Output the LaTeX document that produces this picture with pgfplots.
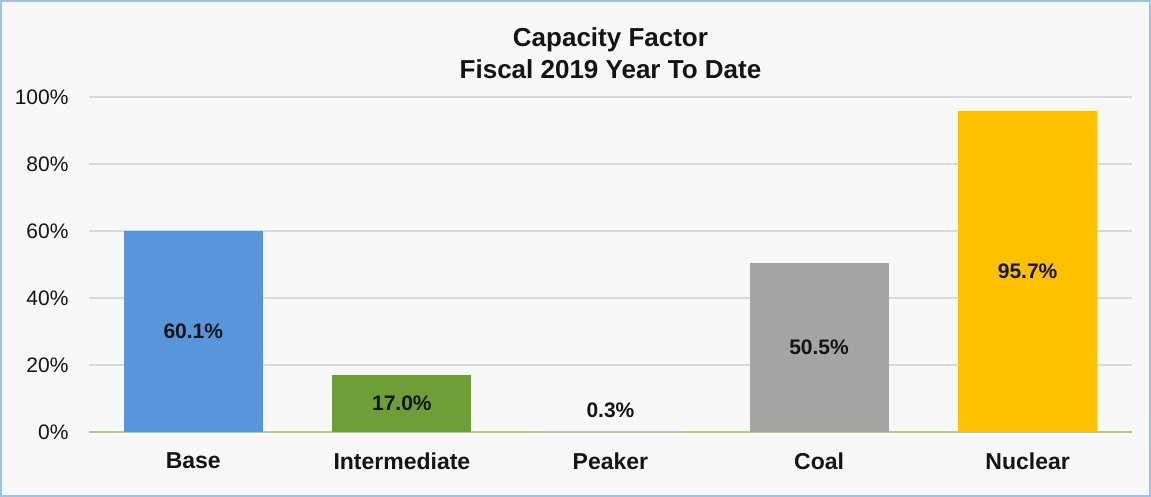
\documentclass[border=0pt]{standalone}
\usepackage{pgfplots}
\pgfplotsset{compat=1.18}
\usepackage{fontspec}
\setmainfont{Liberation Sans}
\definecolor{bgc}{HTML}{F8F8F8}
\definecolor{framec}{HTML}{9CC2E5}
\definecolor{cbase}{HTML}{5896DC}
\definecolor{cinter}{HTML}{6E9E38}
\definecolor{cpeak}{HTML}{A9C5E3}
\definecolor{ccoal}{HTML}{A3A5A3}
\definecolor{cnuc}{HTML}{FFC000}
\definecolor{gridc}{HTML}{D9D9D9}
\definecolor{axisc}{HTML}{A9D18E}
\definecolor{txt}{HTML}{141414}
\begin{document}
\begin{tikzpicture}
\fill[bgc] (0pt,0pt) rectangle (1151pt,497pt);
\draw[framec, line width=2pt] (1pt,1pt) rectangle (1150pt,496pt);
\begin{axis}[
  at={(89pt,65pt)}, anchor=south west,
  scale only axis, width=1043pt, height=335pt,
  xmin=-0.5, xmax=4.5, ymin=0, ymax=100,
  axis lines*=left,
  y axis line style={draw=none},
  x axis line style={axisc, line width=1.5pt, -},
  major tick length=0pt,
  ytick={0,20,40,60,80,100},
  yticklabel={\pgfmathprintnumber{\tick}\%},
  yticklabel style={font=\fontsize{21}{25}\selectfont, text=txt, xshift=-17pt},
  /pgf/number format/assume math mode=true,
  xtick={0,1,2,3,4},
  xticklabels={Base,Intermediate,Peaker,Coal,Nuclear},
  xticklabel style={font=\bfseries\fontsize{23}{27}\selectfont, text=txt, yshift=-17pt},
  ymajorgrids, grid style={gridc, line width=1.5pt},
  ybar, bar width=139pt,
  title={Capacity Factor\\Fiscal 2019 Year To Date},
  title style={align=center, font=\bfseries\fontsize{26}{32}\selectfont, text=txt, at={(0.5,1)}, anchor=south, yshift=9pt},
]
\addplot[fill=cbase, draw=none, bar shift=0pt] coordinates {(0,60.1)};
\addplot[fill=cinter, draw=none, bar shift=0pt] coordinates {(1,17.0)};
\addplot[fill=cpeak, draw=none, bar shift=0pt] coordinates {(2,0.3)};
\addplot[fill=ccoal, draw=none, bar shift=0pt] coordinates {(3,50.5)};
\addplot[fill=cnuc, draw=none, bar shift=0pt] coordinates {(4,95.7)};
\addplot[draw=none, mark=none, only marks, nodes near coords, point meta=explicit symbolic,
  nodes near coords style={anchor=center, font=\bfseries\fontsize{21}{25}\selectfont, text=txt}]
  coordinates {(0,30.05)[60.1\%] (1,8.5)[17.0\%] (2,6.6)[0.3\%] (3,25.25)[50.5\%] (4,47.85)[95.7\%]};
\end{axis}
\end{tikzpicture}
\end{document}
